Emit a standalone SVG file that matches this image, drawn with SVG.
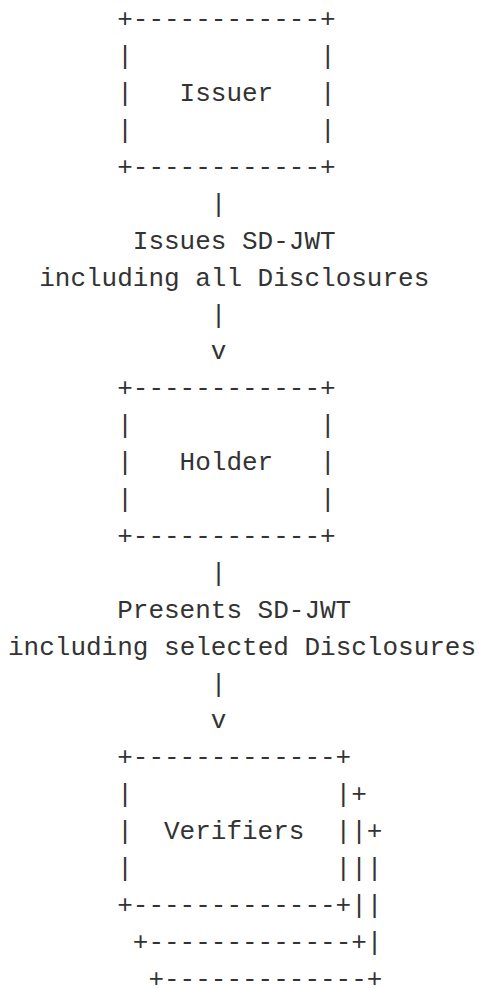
<svg xmlns="http://www.w3.org/2000/svg" width="479" height="988" viewBox="0 0 479 988">
<style>
  text { font-family: "Liberation Mono", "DejaVu Sans Mono", monospace; font-size: 26px; fill: #333333; white-space: pre; }
</style>
<rect width="479" height="988" fill="#ffffff"/>
<g id="issuer" xml:space="preserve">
  <text x="117.2" y="27.3">+------------+</text>
  <text x="117.2" y="64.2">|            |</text>
  <text x="117.2" y="101.1">|   Issuer   |</text>
  <text x="117.2" y="138.0">|            |</text>
  <text x="117.2" y="174.9">+------------+</text>
</g>
<g id="connectors" xml:space="preserve">
  <text x="210.8" y="211.8">|</text>
  <text x="132.8" y="248.7">Issues SD-JWT</text>
  <text x="39.2" y="285.6">including all Disclosures</text>
  <text x="210.8" y="322.5">|</text>
  <text x="210.8" y="359.4">v</text>
  <text x="210.8" y="580.8">|</text>
  <text x="117.2" y="617.7">Presents SD-JWT</text>
  <text x="8" y="654.6">including selected Disclosures</text>
  <text x="210.8" y="691.5">|</text>
  <text x="210.8" y="728.4">v</text>
</g>
<g id="holder" xml:space="preserve">
  <text x="117.2" y="396.3">+------------+</text>
  <text x="117.2" y="433.2">|            |</text>
  <text x="117.2" y="470.1">|   Holder   |</text>
  <text x="117.2" y="507.0">|            |</text>
  <text x="117.2" y="543.9">+------------+</text>
</g>
<g id="verifiers" xml:space="preserve">
  <text x="117.2" y="765.3">+-------------+</text>
  <text x="117.2" y="802.2">|             |+</text>
  <text x="117.2" y="839.1">|  Verifiers  ||+</text>
  <text x="117.2" y="876.0">|             |||</text>
  <text x="117.2" y="912.9">+-------------+||</text>
  <text x="132.8" y="949.8">+-------------+|</text>
  <text x="148.4" y="986.7">+-------------+</text>
</g>
</svg>
